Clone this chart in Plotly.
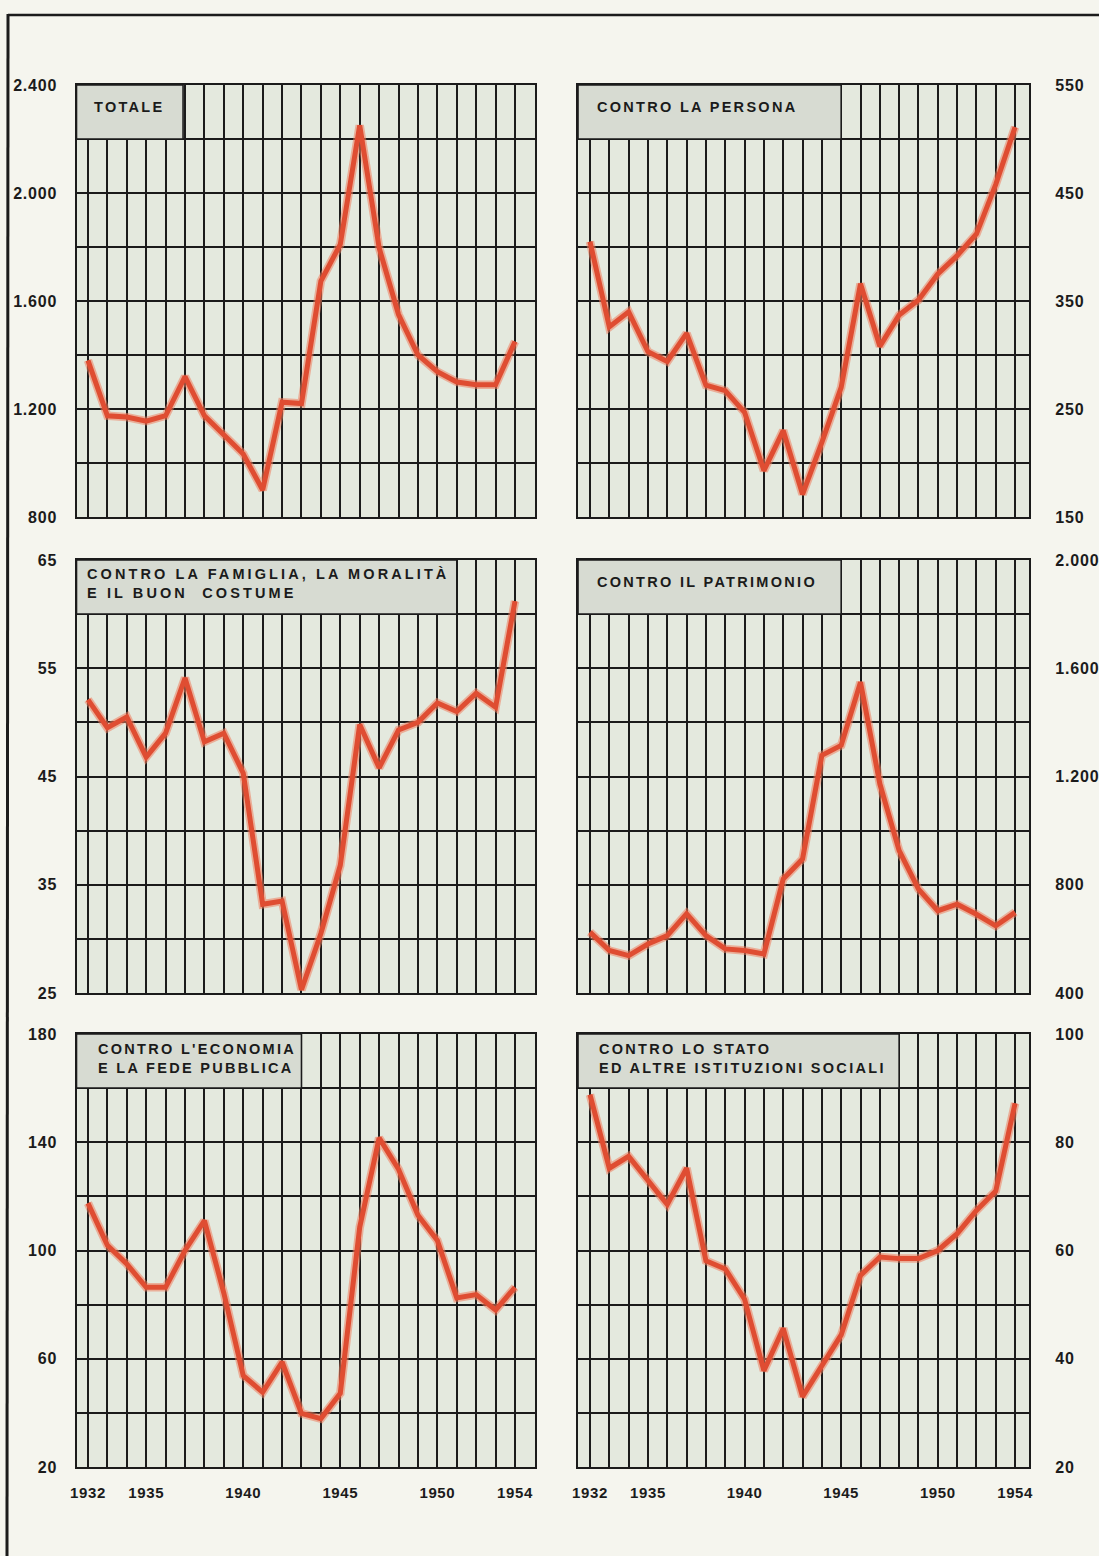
import plotly.graph_objects as go

# ---------------- data ----------------
years = list(range(1932, 1955))

totale = [1380, 1175, 1170, 1155, 1175, 1320, 1175, 1107, 1033, 900, 1225, 1220,
          1674, 1810, 2250, 1797, 1550, 1400, 1338, 1300, 1290, 1290, 1450]
persona = [405, 326, 340, 303, 294, 320, 272, 267, 247, 193, 230, 171,
           219, 270, 366, 308, 337, 351, 375, 392, 412, 458, 511]
famiglia = [52.1, 49.5, 50.5, 46.8, 49.0, 54.1, 48.2, 49.0, 45.3, 33.2, 33.5, 25.3,
            30.5, 36.8, 49.8, 45.8, 49.3, 50.0, 51.8, 51.0, 52.7, 51.4, 61.2]
patrimonio = [625, 557, 538, 581, 612, 693, 612, 563, 557, 544, 821, 895,
              1278, 1315, 1548, 1173, 926, 784, 704, 728, 691, 648, 698]
economia = [117.5, 101.9, 95.0, 86.4, 86.4, 100.0, 111.0, 84.3, 53.8, 47.6, 58.8, 39.8,
            37.9, 47.2, 108.6, 141.6, 130.0, 113.0, 103.7, 82.5, 83.7, 78.0, 86.4]
stato = [88.8, 75.2, 77.4, 73.1, 68.5, 75.2, 58.1, 56.6, 51.0, 37.8, 45.6, 33.0,
         38.5, 44.4, 55.4, 58.8, 58.5, 58.5, 60.0, 63.1, 67.4, 71.0, 87.2]

titles = [
    "TOTALE",
    "CONTRO LA PERSONA",
    "CONTRO LA FAMIGLIA, LA MORALITÀ<br>E IL BUON  COSTUME",
    "CONTRO IL PATRIMONIO",
    "CONTRO L'ECONOMIA<br>E LA FEDE PUBBLICA",
    "CONTRO LO STATO<br>ED ALTRE ISTITUZIONI SOCIALI",
]

y_ranges = [(800, 2400), (150, 550), (25, 65), (400, 2000), (20, 180), (20, 100)]
y_steps = [200, 50, 5, 200, 20, 10]
y_labels = [
    ["800", "1.200", "1.600", "2.000", "2.400"],
    ["150", "250", "350", "450", "550"],
    ["25", "35", "45", "55", "65"],
    ["400", "800", "1.200", "1.600", "2.000"],
    ["20", "60", "100", "140", "180"],
    ["20", "40", "60", "80", "100"],
]
year_labels = {1932: "1932", 1935: "1935", 1940: "1940", 1945: "1945", 1950: "1950", 1954: "1954"}
# right edge (year) of each title box
title_box_right = [1936.9, 1945, 1951, 1945, 1943, 1948]

series = [totale, persona, famiglia, patrimonio, economia, stato]

# ---------------- layout geometry ----------------
W, H = 1099, 1556
col_px = [(76.5, 535.0), (578.0, 1029.0)]
row_px = [(85, 517), (560, 993), (1034, 1467)]
x_ranges = [(1931.41, 1955.03), (1931.38, 1954.72)]

PAPER = "#f5f5ee"
PLOTBG = "#e4e9de"
BOXBG = "#d7dbd2"
RED = "#df4d32"
HALO = "rgba(238,125,95,0.55)"
INK = "#1b1b1b"
FONT = "Liberation Sans"


def spaced(s, px):
    return f'<span style="letter-spacing:{px}px">{s}</span>'


fig = go.Figure()
shapes = []
annotations = []
layout = dict(
    width=W, height=H,
    margin=dict(l=0, r=0, t=0, b=0, pad=0),
    paper_bgcolor=PAPER,
    plot_bgcolor=PLOTBG,
    showlegend=False,
    font=dict(family=FONT, color=INK),
)

for i in range(6):
    r, c = divmod(i, 2)
    n = i + 1
    xa = "x" if n == 1 else f"x{n}"
    ya = "y" if n == 1 else f"y{n}"
    xk = "xaxis" if n == 1 else f"xaxis{n}"
    yk = "yaxis" if n == 1 else f"yaxis{n}"
    x0p, x1p = col_px[c]
    t, b = row_px[r]
    lo, hi = y_ranges[i]
    step = y_steps[i]
    yvals = list(range(lo, hi + 1, step))
    ytext = []
    li = 0
    for k, v in enumerate(yvals):
        if k % 2 == 0:
            ytext.append(spaced(y_labels[i][li], 0.8)); li += 1
        else:
            ytext.append("")

    # line: halo + core
    fig.add_trace(go.Scatter(x=years, y=series[i], mode="lines",
                             line=dict(color=HALO, width=8.5), xaxis=xa, yaxis=ya,
                             hoverinfo="skip"))
    fig.add_trace(go.Scatter(x=years, y=series[i], mode="lines",
                             line=dict(color=RED, width=5), xaxis=xa, yaxis=ya))

    layout[xk] = dict(
        domain=[x0p / W, x1p / W], anchor=ya, range=list(x_ranges[c]),
        automargin=False,
        tickvals=years,
        ticktext=[spaced(year_labels[yv], 0.6) if yv in year_labels else "" for yv in years],
        showticklabels=(r == 2),
        ticks="outside" if r == 2 else "", ticklen=11, tickcolor="rgba(0,0,0,0)",
        tickfont=dict(family=FONT, size=15, color=INK, weight="bold"),
        showgrid=True, gridcolor=INK, gridwidth=1.6,
        zeroline=False, showline=True, mirror=True, linecolor=INK, linewidth=2.2,
        fixedrange=True,
    )
    layout[yk] = dict(
        domain=[1 - b / H, 1 - t / H], anchor=xa, range=[lo, hi],
        automargin=False,
        tickvals=yvals, ticktext=ytext,
        side="left" if c == 0 else "right",
        ticks="outside", ticklen=14 if c == 0 else 21, tickcolor="rgba(0,0,0,0)",
        tickfont=dict(family=FONT, size=16, color=INK, weight="bold"),
        showgrid=True, gridcolor=INK, gridwidth=1.6,
        zeroline=False, showline=True, mirror=True, linecolor=INK, linewidth=2.2,
        fixedrange=True,
    )

    # title box (covers grid, below the data line)
    shapes.append(dict(type="rect", xref=xa, yref=ya, layer="between",
                       x0=x_ranges[c][0], x1=title_box_right[i],
                       y0=hi - step, y1=hi,
                       fillcolor=BOXBG, line=dict(color=INK, width=1.6)))

    two_lines = "<br>" in titles[i]
    ty = t + (24 if two_lines else 22)
    if two_lines:
        tx = x0p + (8 if i == 2 else 19)
    else:
        tx = x0p + (15 if c == 0 else 17)
    ls = 3.1 if i == 2 else 2.3
    txt = "<br>".join(spaced(part, ls) for part in titles[i].split("<br>"))
    annotations.append(dict(xref="paper", yref="paper", x=tx / W, y=1 - ty / H,
                            xanchor="left", yanchor="middle", align="left",
                            text=txt, showarrow=False,
                            font=dict(family=FONT, size=14.5, color=INK, weight="bold")))

# page frame (top and left rules)
shapes.append(dict(type="line", xref="paper", yref="paper",
                   x0=8 / W, x1=1.0, y0=1 - 15 / H, y1=1 - 15 / H,
                   line=dict(color=INK, width=2.5)))
shapes.append(dict(type="line", xref="paper", yref="paper",
                   x0=8 / W, x1=7 / W, y0=1 - 14 / H, y1=0,
                   line=dict(color=INK, width=3)))

layout["shapes"] = shapes
layout["annotations"] = annotations
fig.update_layout(**layout)

fig.write_html(
    "out.html",
    config={"displayModeBar": False},
    post_script="document.body.style.margin='0';document.body.style.padding='0';"
                "document.body.style.overflow='hidden';"
                "document.documentElement.style.overflow='hidden';",
)
